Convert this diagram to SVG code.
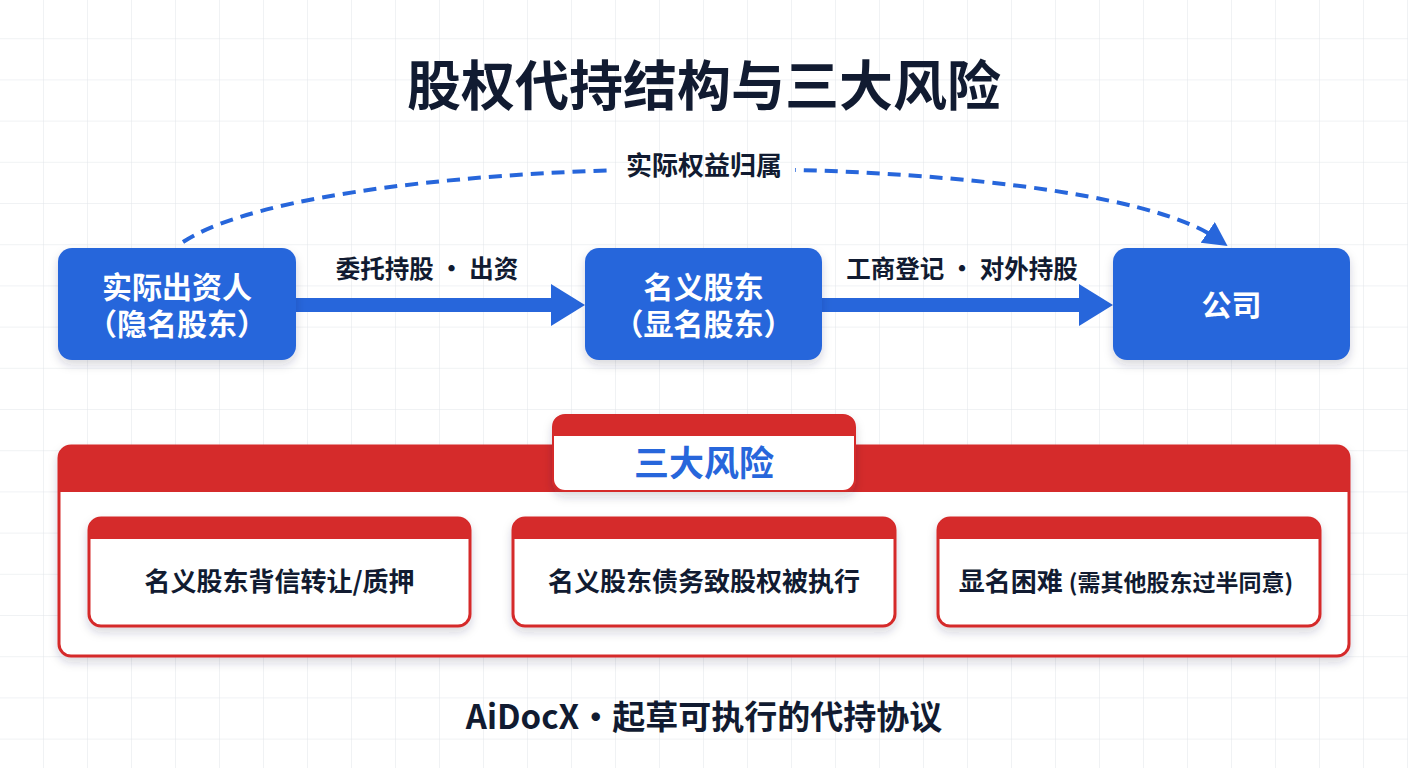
<svg xmlns="http://www.w3.org/2000/svg" width="1408" height="768" viewBox="0 0 1408 768">
<style>
.t{font-family:"Noto Sans CJK SC","Noto Sans",sans-serif;font-weight:700;text-anchor:middle}
.dark{fill:#111b31}
.wt{fill:#ffffff}
.bn{fill:#2766db}
.red{fill:#d52b2b}
.rb{fill:#ffffff;stroke:#d52b2b;stroke-width:3}
</style>
<defs>
<pattern id="grid" x="0" y="-2" width="44" height="41.2" patternUnits="userSpaceOnUse">
<path d="M44 0V41.2M0 41.2H44" fill="none" stroke="#e2e5ea" stroke-width="1"/>
</pattern>
<filter id="sh" x="-10%" y="-20%" width="120%" height="150%">
<feDropShadow dx="0" dy="5" stdDeviation="5" flood-color="#1b2a4a" flood-opacity="0.18"/>
</filter>
<marker id="ah" markerUnits="userSpaceOnUse" markerWidth="34" markerHeight="42" refX="0" refY="21" orient="auto">
<polygon points="0,0 34,21 0,42" fill="#2766db"/>
</marker>
<marker id="ahd" markerUnits="userSpaceOnUse" markerWidth="25" markerHeight="26" refX="10" refY="12.5" orient="auto">
<polygon points="0,0 24,12.5 0,25" fill="#2766db"/>
</marker>
<mask id="lm" maskUnits="userSpaceOnUse" x="0" y="0" width="1408" height="768">
<rect x="0" y="0" width="1408" height="768" fill="#fff"/>
<rect x="612" y="140" width="183" height="50" fill="#000"/>
</mask>
</defs>
<rect x="0" y="0" width="1408" height="768" fill="#ffffff"/>
<rect x="0" y="0" width="1408" height="768" fill="url(#grid)"/>

<g id="title">
<text class="t dark" x="704" y="106" font-size="54">股权代持结构与三大风险</text>
</g>

<g id="connectors">
<path d="M183 242 C330 145 1080 145 1216 238" fill="none" stroke="#2766db" stroke-width="4" stroke-dasharray="13 8" mask="url(#lm)" marker-end="url(#ahd)"/>
<text class="t dark" x="704" y="175" font-size="26">实际权益归属</text>
<line x1="294" y1="305" x2="551" y2="305" stroke="#2766db" stroke-width="14" marker-end="url(#ah)"/>
<text class="t dark" x="427" y="278" font-size="24.5">委托持股 · 出资</text>
<line x1="820" y1="305" x2="1079" y2="305" stroke="#2766db" stroke-width="14" marker-end="url(#ah)"/>
<text class="t dark" x="962" y="278" font-size="24.5">工商登记 · 对外持股</text>
</g>

<g id="investor">
<rect x="58" y="248" width="238" height="112" rx="14" class="bn" filter="url(#sh)"/>
<text class="t wt" font-size="30"><tspan x="177" y="298">实际出资人</tspan><tspan x="177" y="335">（隐名股东）</tspan></text>
</g>

<g id="nominee">
<rect x="585" y="248" width="237" height="112" rx="14" class="bn" filter="url(#sh)"/>
<text class="t wt" font-size="30"><tspan x="703.5" y="298">名义股东</tspan><tspan x="703.5" y="335">（显名股东）</tspan></text>
</g>

<g id="company">
<rect x="1113" y="248" width="237" height="112" rx="14" class="bn" filter="url(#sh)"/>
<text class="t wt" x="1231.5" y="316" font-size="30">公司</text>
</g>

<g id="risks">
<rect x="59" y="446" width="1290" height="210" rx="12" class="rb" filter="url(#sh)"/>
<path d="M59 492 V458 Q59 446 71 446 H1337 Q1349 446 1349 458 V492 Z" class="red"/>
</g>

<g id="risk-tab">
<rect x="553" y="415" width="302" height="76" rx="12" fill="#ffffff" stroke="#d52b2b" stroke-width="2" filter="url(#sh)"/>
<path d="M553 436 V427 Q553 415 565 415 H843 Q855 415 855 427 V436 Z" class="red"/>
<text class="t" x="704" y="476" font-size="35" fill="#2766db">三大风险</text>
</g>

<g id="risk1">
<rect x="89" y="518" width="381" height="108" rx="12" class="rb" filter="url(#sh)"/>
<path d="M89 539 V530 Q89 518 101 518 H458 Q470 518 470 530 V539 Z" class="red"/>
<text class="t dark" x="279.5" y="591" font-size="26">名义股东背信转让/质押</text>
</g>

<g id="risk2">
<rect x="513" y="518" width="382" height="108" rx="12" class="rb" filter="url(#sh)"/>
<path d="M513 539 V530 Q513 518 525 518 H883 Q895 518 895 530 V539 Z" class="red"/>
<text class="t dark" x="704" y="591" font-size="26">名义股东债务致股权被执行</text>
</g>

<g id="risk3">
<rect x="938" y="518" width="382" height="108" rx="12" class="rb" filter="url(#sh)"/>
<path d="M938 539 V530 Q938 518 950 518 H1308 Q1320 518 1320 530 V539 Z" class="red"/>
<text class="t dark" x="1126" y="591" font-size="26">显名困难 <tspan font-size="23">(需其他股东过半同意)</tspan></text>
</g>

<g id="footer">
<text class="t dark" x="704" y="729" font-size="33">AiDocX·起草可执行的代持协议</text>
</g>
</svg>
